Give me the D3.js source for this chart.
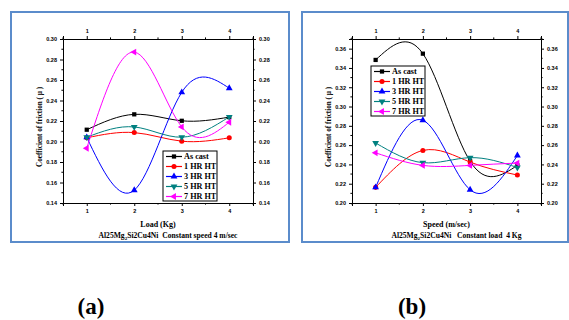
<!DOCTYPE html>
<html>
<head>
<meta charset="utf-8">
<script src="https://cdn.jsdelivr.net/npm/d3@7"></script>
<style>
  body { margin: 0; background: #fff; }
  svg { display: block; }
  .tick text { font-family: "Liberation Sans", Arial, sans-serif; font-weight: bold; font-size: 5.5px; fill: #000; }
  .title { font-family: "Liberation Serif", "Times New Roman", serif; font-weight: bold; fill: #000; white-space: pre; }
</style>
</head>
<body>
<div id="chart"></div>
<script>
// x categories
const loads = [1, 2, 3, 4];
const speeds = [1, 2, 3, 4];
const seriesNames = ['As cast', '1 HR HT', '3 HR HT', '5 HR HT', '7 HR HT'];

// (a) constant speed 4 m/sec, x = load (Kg)
const loadAsCast = [0.2115, 0.2265, 0.2202, 0.2238];
const loadHr1 = [0.2036, 0.2087, 0.2003, 0.2036];
const loadHr3 = [0.2040, 0.1525, 0.2480, 0.2520];
const loadHr5 = [0.2042, 0.2142, 0.2042, 0.2240];
const loadHr7 = [0.1934, 0.2872, 0.2142, 0.2188];

// (b) constant load 4 Kg, x = speed (m/sec)
const speedAsCast = [0.3483, 0.3548, 0.2432, 0.2390];
const speedHr1 = [0.2162, 0.2545, 0.2424, 0.2290];
const speedHr3 = [0.2162, 0.2858, 0.2137, 0.2492];
const speedHr5 = [0.2622, 0.2418, 0.2470, 0.2368];
const speedHr7 = [0.2520, 0.2390, 0.2390, 0.2414];

const yTicksA = [0.14, 0.16, 0.18, 0.20, 0.22, 0.24, 0.26, 0.28, 0.30];
const yTicksB = [0.20, 0.22, 0.24, 0.26, 0.28, 0.30, 0.32, 0.34, 0.36];

const colors = ['#000000', '#ff0000', '#0000ff', '#008080', '#ff00ff'];
// marker: symbol + rotation
const markers = [
  { sym: d3.symbolSquare, rot: 0 },
  { sym: d3.symbolCircle, rot: 0 },
  { sym: d3.symbolTriangle, rot: 0 },
  { sym: d3.symbolTriangle, rot: 180 },
  { sym: d3.symbolTriangle, rot: -90 }
];

const W = 569, H = 320;
const svg = d3.select('#chart').append('svg')
  .attr('width', W)
  .attr('height', H);

function drawPanel(cfg) {
  // blue frame
  svg.append('rect')
    .attr('x', cfg.frame[0]).attr('y', cfg.frame[1])
    .attr('width', cfg.frame[2]).attr('height', cfg.frame[3])
    .attr('fill', 'none')
    .attr('stroke', '#5b8ccb')
    .attr('stroke-width', 2);

  const x = d3.scaleLinear().domain([0.5, 4.5]).range([cfg.left, cfg.right]);
  const y = d3.scaleLinear().domain(cfg.yDomain).range([cfg.bottom, cfg.top]);

  const g = svg.append('g');

  // minor ticks
  const xMinor = [0.5, 1.5, 2.5, 3.5, 4.5];
  const yMinor = d3.range(cfg.yDomain[0] + 0.01, cfg.yDomain[1] + 0.001, 0.02);

  const fmt = d3.format('.2f');

  g.append('g').attr('transform', `translate(0,${cfg.bottom})`)
    .call(d3.axisBottom(x).tickValues(cfg.xs).tickSize(3).tickFormat(d3.format('d')));
  g.append('g').attr('transform', `translate(0,${cfg.top})`)
    .call(d3.axisTop(x).tickValues(cfg.xs).tickSize(3).tickFormat(d3.format('d')));
  g.append('g').attr('transform', `translate(${cfg.left},0)`)
    .call(d3.axisLeft(y).tickValues(cfg.yTicks).tickSize(3).tickFormat(fmt));
  g.append('g').attr('transform', `translate(${cfg.right},0)`)
    .call(d3.axisRight(y).tickValues(cfg.yTicks).tickSize(3).tickFormat(fmt));

  // minor ticks
  [[cfg.bottom, 1], [cfg.top, -1]].forEach(([yy, dir]) => {
    g.selectAll(null).data(xMinor).enter().append('line')
      .attr('x1', d => x(d)).attr('x2', d => x(d))
      .attr('y1', yy).attr('y2', yy + dir * 1.6)
      .attr('stroke', '#000').attr('stroke-width', 1);
  });
  [[cfg.left, -1], [cfg.right, 1]].forEach(([xx, dir]) => {
    g.selectAll(null).data(yMinor).enter().append('line')
      .attr('y1', d => y(d)).attr('y2', d => y(d))
      .attr('x1', xx).attr('x2', xx + dir * 1.6)
      .attr('stroke', '#000').attr('stroke-width', 1);
  });

  g.selectAll('.domain').attr('stroke', '#000').attr('stroke-width', 1);
  g.selectAll('.tick line').attr('stroke', '#000');
  g.selectAll('.tick text').attr('font-size', null);

  // curves
  const line = d3.line()
    .x((d, i) => x(cfg.xs[i]))
    .y(d => y(d))
    .curve(d3.curveNatural);

  cfg.series.forEach((vals, k) => {
    g.append('path')
      .datum(vals)
      .attr('fill', 'none')
      .attr('stroke', colors[k])
      .attr('stroke-width', 1)
      .attr('d', line);
  });
  cfg.series.forEach((vals, k) => {
    const sym = d3.symbol().type(markers[k].sym).size(k === 0 ? 18 : 20);
    g.selectAll(null).data(vals).enter().append('path')
      .attr('d', sym)
      .attr('fill', colors[k])
      .attr('transform', (d, i) => `translate(${x(cfg.xs[i])},${y(d)}) rotate(${markers[k].rot})`);
  });

  // legend
  const lg = svg.append('g').attr('transform', `translate(${cfg.legend[0]},${cfg.legend[1]})`);
  lg.append('rect')
    .attr('width', 54).attr('height', 50)
    .attr('fill', '#fff').attr('stroke', '#000').attr('stroke-width', 1);
  seriesNames.forEach((name, k) => {
    const ry = 5.5 + k * 10;
    lg.append('line')
      .attr('x1', 3).attr('x2', 19).attr('y1', ry).attr('y2', ry)
      .attr('stroke', colors[k]).attr('stroke-width', 1.2);
    lg.append('path')
      .attr('d', d3.symbol().type(markers[k].sym).size(k === 0 ? 18 : 20))
      .attr('fill', colors[k])
      .attr('transform', `translate(11,${ry}) rotate(${markers[k].rot})`);
    lg.append('text')
      .attr('class', 'title')
      .attr('x', 21).attr('y', ry + 2.8)
      .attr('font-size', 8.2)
      .text(name);
  });

  // axis titles
  const cx = (cfg.left + cfg.right) / 2;
  svg.append('text')
    .attr('class', 'title')
    .attr('x', cx).attr('y', 227)
    .attr('text-anchor', 'middle')
    .attr('font-size', 8)
    .text(cfg.xTitle);

  const sub = svg.append('text')
    .attr('class', 'title')
    .attr('x', cx + 10).attr('y', 238)
    .attr('text-anchor', 'middle')
    .attr('font-size', 7.6);
  sub.append('tspan').text('Al25Mg');
  sub.append('tspan').attr('font-size', 5).attr('dy', 2).text('2');
  sub.append('tspan').attr('dy', -2).text(cfg.subtitle);

  svg.append('text')
    .attr('class', 'title')
    .attr('transform', `translate(${cfg.yTitleX},${(cfg.top + cfg.bottom) / 2 + 6}) rotate(-90)`)
    .attr('text-anchor', 'middle')
    .attr('font-size', 7.2)
    .text('Coefficient of friction ( \u03bc )');

  // panel tag
  svg.append('text')
    .attr('class', 'title')
    .attr('x', cfg.tag[0]).attr('y', cfg.tag[1])
    .attr('text-anchor', 'middle')
    .attr('font-size', 23)
    .text(cfg.tagText);
}

drawPanel({
  frame: [11, 12, 278, 230],
  left: 63, right: 253, top: 39, bottom: 203,
  xs: loads,
  yDomain: [0.14, 0.30],
  yTicks: yTicksA,
  series: [loadAsCast, loadHr1, loadHr3, loadHr5, loadHr7],
  legend: [163, 151],
  xTitle: 'Load (Kg)',
  subtitle: 'Si2Cu4Ni  Constant speed 4 m/sec',
  yTitleX: 42,
  tag: [91, 314],
  tagText: '(a)'
});

drawPanel({
  frame: [302, 12, 266, 230],
  left: 352, right: 541, top: 39, bottom: 203,
  xs: speeds,
  yDomain: [0.20, 0.37],
  yTicks: yTicksB,
  series: [speedAsCast, speedHr1, speedHr3, speedHr5, speedHr7],
  legend: [371, 66],
  xTitle: 'Speed (m/sec)',
  subtitle: 'Si2Cu4Ni   Constant load  4 Kg',
  yTitleX: 331,
  tag: [412, 314],
  tagText: '(b)'
});
</script>
</body>
</html>
